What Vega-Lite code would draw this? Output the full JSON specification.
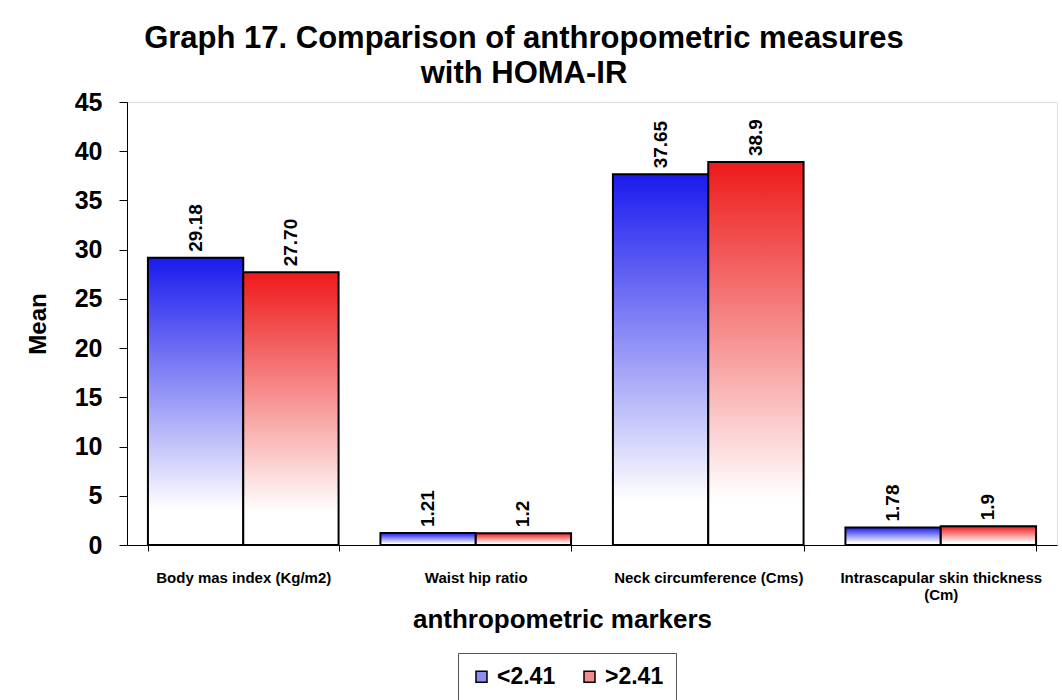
{
  "$schema": "https://vega.github.io/schema/vega-lite/v6.json",
  "width": 930,
  "height": 443,
  "autosize": {"type": "none"},
  "padding": {"left": 127, "top": 102, "right": 5, "bottom": 155},
  "background": "white",
  "title": {
    "text": ["Graph 17. Comparison of anthropometric measures", "with HOMA-IR"],
    "font": "Liberation Sans",
    "fontSize": 31,
    "fontWeight": "bold",
    "color": "black",
    "anchor": "middle",
    "dx": -68,
    "offset": 0,
    "lineHeight": 35
  },
  "data": {
    "values": [
      {"marker": "Body mas index (Kg/m2)", "group": "<2.41", "value": 29.18, "label": "29.18"},
      {"marker": "Body mas index (Kg/m2)", "group": ">2.41", "value": 27.7, "label": "27.70"},
      {"marker": "Waist hip ratio", "group": "<2.41", "value": 1.21, "label": "1.21"},
      {"marker": "Waist hip ratio", "group": ">2.41", "value": 1.2, "label": "1.2"},
      {"marker": "Neck circumference (Cms)", "group": "<2.41", "value": 37.65, "label": "37.65"},
      {"marker": "Neck circumference (Cms)", "group": ">2.41", "value": 38.9, "label": "38.9"},
      {"marker": "Intrascapular skin thickness (Cm)", "group": "<2.41", "value": 1.78, "label": "1.78"},
      {"marker": "Intrascapular skin thickness (Cm)", "group": ">2.41", "value": 1.9, "label": "1.9"}
    ]
  },
  "encoding": {
    "x": {
      "field": "marker",
      "type": "nominal",
      "sort": null,
      "scale": {"paddingInner": 0.18, "paddingOuter": 0.09},
      "axis": {
        "title": "anthropometric markers",
        "titleFont": "Liberation Sans",
        "titleFontSize": 26,
        "titleFontWeight": "bold",
        "titleColor": "black",
        "titlePadding": 4,
        "titleX": 435,
        "titleAlign": "center",
        "labelAngle": 0,
        "labelFont": "Liberation Sans",
        "labelFontSize": 15,
        "labelFontWeight": "bold",
        "labelColor": "black",
        "labelPadding": 19,
        "labelLimit": 300,
        "labelExpr": "datum.value == 'Intrascapular skin thickness (Cm)' ? ['Intrascapular skin thickness', '(Cm)'] : datum.value",
        "tickBand": "extent",
        "tickSize": 6,
        "tickColor": "black",
        "domainColor": "black",
        "domainWidth": 1
      }
    },
    "xOffset": {"field": "group", "type": "nominal", "scale": {"domain": ["<2.41", ">2.41"], "paddingInner": 0, "paddingOuter": 0}},
    "y": {
      "field": "value",
      "type": "quantitative",
      "scale": {"domain": [0, 45], "nice": false},
      "axis": {
        "title": "Mean",
        "titleFont": "Liberation Sans",
        "titleFontSize": 24,
        "titleFontWeight": "bold",
        "titleColor": "black",
        "titlePadding": 24,
        "values": [0, 5, 10, 15, 20, 25, 30, 35, 40, 45],
        "labelFont": "Liberation Sans",
        "labelFontSize": 25,
        "labelFontWeight": "bold",
        "labelColor": "black",
        "labelPadding": 17,
        "grid": false,
        "tickSize": 8,
        "tickColor": "black",
        "domainColor": "black"
      }
    }
  },
  "layer": [
    {
      "transform": [{"filter": "datum.group == '<2.41'"}],
      "mark": {"type": "bar", "stroke": "black", "strokeWidth": 2, "fillOpacity": 1,
        "fill": {"gradient": "linear", "x1": 0, "y1": 0, "x2": 0, "y2": 1, "stops": [{"offset": 0, "color": "#1a1aee"}, {"offset": 0.88, "color": "#ffffff"}, {"offset": 1, "color": "#ffffff"}]}}
    },
    {
      "transform": [{"filter": "datum.group == '>2.41'"}],
      "mark": {"type": "bar", "stroke": "black", "strokeWidth": 2, "fillOpacity": 1,
        "fill": {"gradient": "linear", "x1": 0, "y1": 0, "x2": 0, "y2": 1, "stops": [{"offset": 0, "color": "#ee1a1a"}, {"offset": 0.88, "color": "#ffffff"}, {"offset": 1, "color": "#ffffff"}]}}
    },
    {
      "mark": {"type": "text", "angle": 270, "align": "left", "baseline": "middle", "dx": 6, "font": "Liberation Sans", "fontSize": 19, "fontWeight": "bold", "color": "black"},
      "encoding": {"text": {"field": "label"}}
    },
    {
      "transform": [{"filter": "false"}],
      "mark": {"type": "square", "filled": true},
      "encoding": {
        "fill": {
          "field": "group",
          "type": "nominal",
          "scale": {"domain": ["<2.41", ">2.41"], "range": ["#8c8cf2", "#f28c8c"]},
          "legend": {
            "title": null,
            "orient": "none",
            "legendX": 331,
            "legendY": 551,
            "direction": "horizontal",
            "symbolType": "square",
            "symbolSize": 121,
            "symbolStrokeColor": "black",
            "symbolStrokeWidth": 1.5,
            "symbolOpacity": 1,
            "labelFont": "Liberation Sans",
            "labelFontSize": 23,
            "labelFontWeight": "bold",
            "labelColor": "black",
            "labelOffset": 4,
            "columnPadding": 22,
            "strokeColor": "#555555",
            "padding": 12
          }
        }
      }
    }
  ]
}
